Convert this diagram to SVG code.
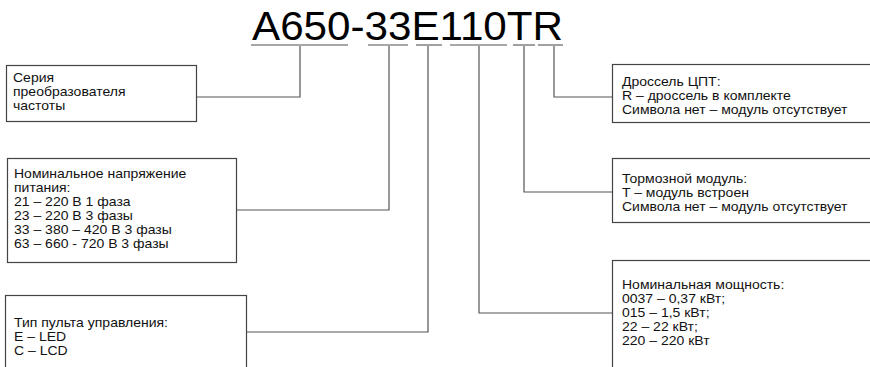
<svg xmlns="http://www.w3.org/2000/svg" width="870" height="367" viewBox="0 0 870 367">
<style>
.t{font-family:"Liberation Sans",Arial,sans-serif;font-size:12.5px;fill:#111}
.big{font-family:"Liberation Sans",Arial,sans-serif;font-size:40px;fill:#000}
.box{fill:#fff;stroke:#444;stroke-width:1.2}
.ul{stroke:#8a8a8a;stroke-width:1.6;fill:none}
.c{stroke:#555;stroke-width:1.2;fill:none}
</style>
<rect width="870" height="367" fill="#fff"/>
<g id="code">
<text class="big" x="252" y="40" textLength="311" lengthAdjust="spacingAndGlyphs">A650-33E110TR</text>
<line class="ul" x1="251" y1="45" x2="348" y2="45"/>
<line class="ul" x1="368" y1="45" x2="408" y2="45"/>
<line class="ul" x1="416" y1="45" x2="442" y2="45"/>
<line class="ul" x1="450" y1="45" x2="507" y2="45"/>
<line class="ul" x1="513" y1="45" x2="535" y2="45"/>
<line class="ul" x1="538" y1="45" x2="563" y2="45"/>
</g>
<g id="connectors">
<polyline class="c" points="197,97 300,97 300,46"/>
<polyline class="c" points="237,210 389,210 389,46"/>
<polyline class="c" points="247,332 428,332 428,46"/>
<polyline class="c" points="612,97 554,97 554,46"/>
<polyline class="c" points="612,192 524,192 524,46"/>
<polyline class="c" points="612,313 479,313 479,46"/>
</g>
<g id="series">
<rect class="box" x="6.5" y="65.5" width="190" height="56"/>
<text class="t" transform="translate(13,0) scale(1.12,1)" x="0" y="82">Серия<tspan x="0" dy="14">преобразователя</tspan><tspan x="0" dy="14">частоты</tspan></text>
</g>
<g id="voltage">
<rect class="box" x="7.5" y="158.5" width="229" height="104"/>
<text class="t" transform="translate(14,0) scale(1.12,1)" x="0" y="178">Номинальное напряжение<tspan x="0" dy="14">питания:</tspan><tspan x="0" dy="14">21 – 220 В 1 фаза</tspan><tspan x="0" dy="14">23 – 220 В 3 фазы</tspan><tspan x="0" dy="14">33 – 380 – 420 В 3 фазы</tspan><tspan x="0" dy="14">63 – 660 - 720 В 3 фазы</tspan></text>
</g>
<g id="panel">
<rect class="box" x="5.5" y="295.5" width="241" height="80"/>
<text class="t" transform="translate(14,0) scale(1.12,1)" x="0" y="327">Тип пульта управления:<tspan x="0" dy="14">E – LED</tspan><tspan x="0" dy="14">C – LCD</tspan></text>
</g>
<g id="choke">
<rect class="box" x="612.5" y="64.5" width="270" height="58"/>
<text class="t" transform="translate(622,0) scale(1.12,1)" x="0" y="86">Дроссель ЦПТ:<tspan x="0" dy="14">R – дроссель в комплекте</tspan><tspan x="0" dy="14">Символа нет – модуль отсутствует</tspan></text>
</g>
<g id="brake">
<rect class="box" x="612.5" y="158.5" width="270" height="64"/>
<text class="t" transform="translate(622,0) scale(1.12,1)" x="0" y="183">Тормозной модуль:<tspan x="0" dy="14">T – модуль встроен</tspan><tspan x="0" dy="14">Символа нет – модуль отсутствует</tspan></text>
</g>
<g id="power">
<rect class="box" x="612.5" y="260.5" width="270" height="120"/>
<text class="t" transform="translate(622,0) scale(1.12,1)" x="0" y="289">Номинальная мощность:<tspan x="0" dy="14">0037 – 0,37 кВт;</tspan><tspan x="0" dy="14">015 – 1,5 кВт;</tspan><tspan x="0" dy="14">22 – 22 кВт;</tspan><tspan x="0" dy="14">220 – 220 кВт</tspan></text>
</g>
</svg>
